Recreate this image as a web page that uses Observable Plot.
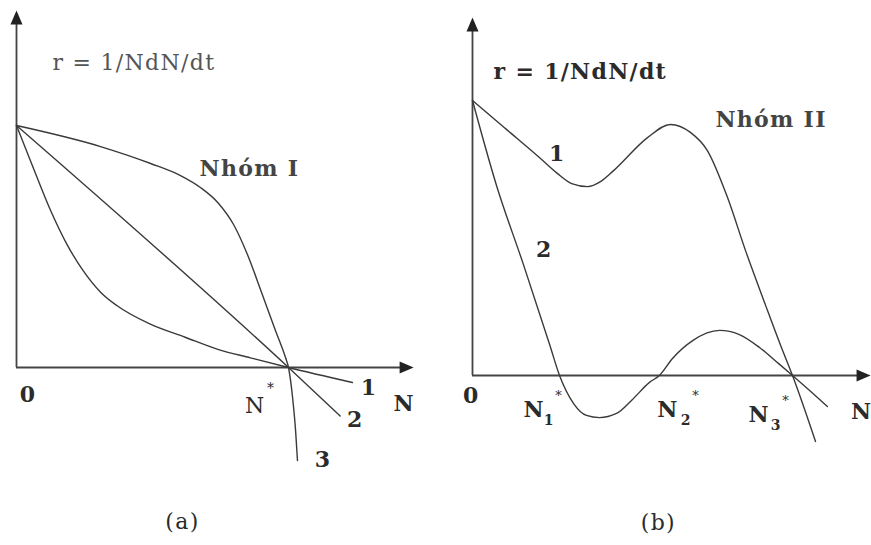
<!DOCTYPE html>
<html>
<head>
<meta charset="utf-8">
<script src="https://cdn.jsdelivr.net/npm/d3@7"></script>
<script src="https://cdn.jsdelivr.net/npm/@observablehq/plot@0.6"></script>
<style>
  html, body { margin: 0; background: #fff; }
  #fig { position: relative; width: 871px; height: 545px; overflow: hidden; background: #fff; }
  #fig svg { position: absolute; top: 0; }
  .spaced text { letter-spacing: 1.3px; }
</style>
</head>
<body>
<div id="fig"></div>
<script>
// Per-capita growth rate r = 1/N dN/dt against population size N.
// Units: N* (or N3*) = 10 on the N axis, r at N = 0 is 10.

// ---- Panel (a): Nhóm I ----
// curve 1: concave-up decline, shallow slope past N*
const curveA1 = [[0,10],[0.6,8.3],[1.25,6.5],[1.85,5.1],[2.45,4.0],[3.1,3.1],[3.7,2.55],
                 [4.9,1.8],[6.2,1.25],[7.4,0.75],[8.6,0.4],[10,0],[12.35,-0.62]];
// curve 2: straight (logistic) decline
const curveA2 = [[0,10],[10,0],[11.9,-2.0]];
// curve 3: concave-down decline, steep past N*
const curveA3 = [[0,10],[3.09,9.13],[4.93,8.43],[6.03,7.93],[6.76,7.44],[7.43,6.78],[7.98,5.91],
                 [8.49,4.67],[9.01,3.1],[9.52,1.53],[9.89,0.41],[10,0],[10.15,-1.24],[10.26,-2.6],[10.33,-3.84]];
const axisA = {nMax: 14.6, rMax: 14.75};

// ---- Panel (b): Nhóm II ----
const curveB1 = [[0,10],[1.06,8.95],[2.09,7.93],[2.65,7.35],[3.1,6.98],[3.6,6.87],[4.0,7.05],[4.41,7.45],
                 [5.47,8.65],[6.19,9.13],[6.81,8.84],[7.34,8.18],[7.97,6.47],[8.53,4.55],
                 [9.16,2.55],[9.63,1.09],[10,0],[10.72,-2.4]];
const curveB2 = [[0,10],[0.75,6.91],[1.59,4.04],[2.41,1.13],
                 [2.72,0],[3.16,-1.02],[3.56,-1.45],[3.97,-1.53],[4.5,-1.38],[5.0,-0.87],
                 [5.53,-0.25],[5.84,0],[6.25,0.62],[6.88,1.27],[7.72,1.64],[8.34,1.49],
                 [8.97,1.02],[9.56,0.44],[10,0],[10.5,-0.51],[11.09,-1.13]];
const axisB = {nMax: 12.44, rMax: 13.02};

// Text annotations (data units)
const titleA = [{x: 1.32, y: 12.6, t: "r = 1/NdN/dt"}];
const groupA = [{x: 6.73, y: 8.22, t: "Nhóm I"}];
const curveNamesA = [{x: 12.94, y: -0.83, t: "1"}, {x: 12.43, y: -2.15, t: "2"}, {x: 11.25, y: -3.8, t: "3"}];
const axisTextA = [{x: 0.4, y: -1.12, t: "0"}, {x: 14.23, y: -1.49, t: "N"}];
const eqA = [{x: 8.75, y: -1.57, t: "N", s: 9.34, sy: -0.87}];
const captionA = [{x: 6.1, y: -6.4, t: "(a)"}];

const titleB = [{x: 0.66, y: 11.05, t: "r = 1/NdN/dt"}];
const groupB = [{x: 7.59, y: 9.31, t: "Nhóm II"}];
const curveNamesB = [{x: 2.63, y: 8.04, t: "1"}, {x: 2.22, y: 4.55, t: "2"}];
const axisTextB = [{x: -0.06, y: -0.73, t: "0"}, {x: 12.14, y: -1.31, t: "N"}];
const eqB = [
  {x: 1.91, y: -1.27, sub: "1", bx: 2.38, by: -1.64, sx: 2.69, sy: -0.73},
  {x: 6.09, y: -1.27, sub: "2", bx: 6.66, by: -1.64, sx: 6.97, sy: -0.73},
  {x: 8.94, y: -1.45, sub: "3", bx: 9.47, by: -1.82, sx: 9.78, sy: -0.91}
];
const captionB = [{x: 5.81, y: -5.35, t: "(b)"}];

const FONT = "'DejaVu Serif', 'Liberation Serif', serif";
const INK = "#2b2b2b";
const LINE = "#3a3a3a";

// Filled arrowhead with its tip at the anchor point, pointing up
const arrowHead = {
  draw(ctx) {
    ctx.moveTo(0, 0);
    ctx.lineTo(6, 14);
    ctx.lineTo(-6, 14);
    ctx.closePath();
  }
};

function curveLine(data) {
  return Plot.line(data, {x: d => d[0], y: d => d[1], curve: "monotone-x", stroke: LINE, strokeWidth: 1.4});
}

function axes(ax) {
  return [
    Plot.ruleX([0], {y1: 0, y2: ax.rMax - 0.3, stroke: "#444", strokeWidth: 1.8}),
    Plot.ruleY([0], {x1: 0, x2: ax.nMax - 0.3, stroke: "#444", strokeWidth: 1.8}),
    Plot.dot([ax], {x: 0, y: "rMax", symbol: arrowHead, fill: "#222", stroke: "none"}),
    Plot.dot([ax], {x: "nMax", y: 0, symbol: arrowHead, rotate: 90, fill: "#222", stroke: "none"})
  ];
}

const txt = (data, opts) => Plot.text(data, {x: "x", y: "y", text: "t", fontFamily: FONT, fill: INK, ...opts});

const panelA = Plot.plot({
  width: 440, height: 545, margin: 0,
  x: {domain: [0, 10], range: [16, 288], axis: null},
  y: {domain: [0, 10], range: [367, 125], axis: null},
  style: {background: "transparent", overflow: "visible"},
  marks: [
    ...axes(axisA),
    curveLine(curveA1), curveLine(curveA2), curveLine(curveA3),
    txt(titleA, {fontSize: 22, fontWeight: 500, fill: "#555", textAnchor: "start", className: "spaced"}),
    txt(groupA, {fontSize: 22, fontWeight: "bold", fill: "#444", textAnchor: "start", className: "spaced"}),
    txt(curveNamesA, {fontSize: 22, fontWeight: "bold"}),
    txt(axisTextA, {fontSize: 22, fontWeight: "bold"}),
    txt(eqA, {fontSize: 22}),
    Plot.text(eqA, {x: "s", y: "sy", text: () => "*", fontFamily: FONT, fontSize: 14, fill: INK}),
    txt(captionA, {fontSize: 22, className: "spaced"})
  ]
});

const panelB = Plot.plot({
  width: 431, height: 545, margin: 0,
  x: {domain: [0, 10], range: [32, 352], axis: null},
  y: {domain: [0, 10], range: [375, 100], axis: null},
  style: {background: "transparent", overflow: "visible"},
  marks: [
    ...axes(axisB),
    curveLine(curveB1), curveLine(curveB2),
    txt(titleB, {fontSize: 22, fontWeight: "bold", textAnchor: "start", className: "spaced"}),
    txt(groupB, {fontSize: 22, fontWeight: "bold", fill: "#444", textAnchor: "start", className: "spaced"}),
    txt(curveNamesB, {fontSize: 22, fontWeight: "bold"}),
    txt(axisTextB, {fontSize: 22, fontWeight: "bold"}),
    Plot.text(eqB, {x: "x", y: "y", text: () => "N", fontFamily: FONT, fontSize: 22, fontWeight: "bold", fill: INK}),
    Plot.text(eqB, {x: "bx", y: "by", text: "sub", fontFamily: FONT, fontSize: 14, fontWeight: "bold", fill: INK}),
    Plot.text(eqB, {x: "sx", y: "sy", text: () => "*", fontFamily: FONT, fontSize: 13, fill: INK}),
    txt(captionB, {fontSize: 22, className: "spaced"})
  ]
});

const fig = document.getElementById("fig");
panelA.style.left = "0px";
panelB.style.left = "440px";
fig.appendChild(panelA);
fig.appendChild(panelB);
</script>
</body>
</html>
